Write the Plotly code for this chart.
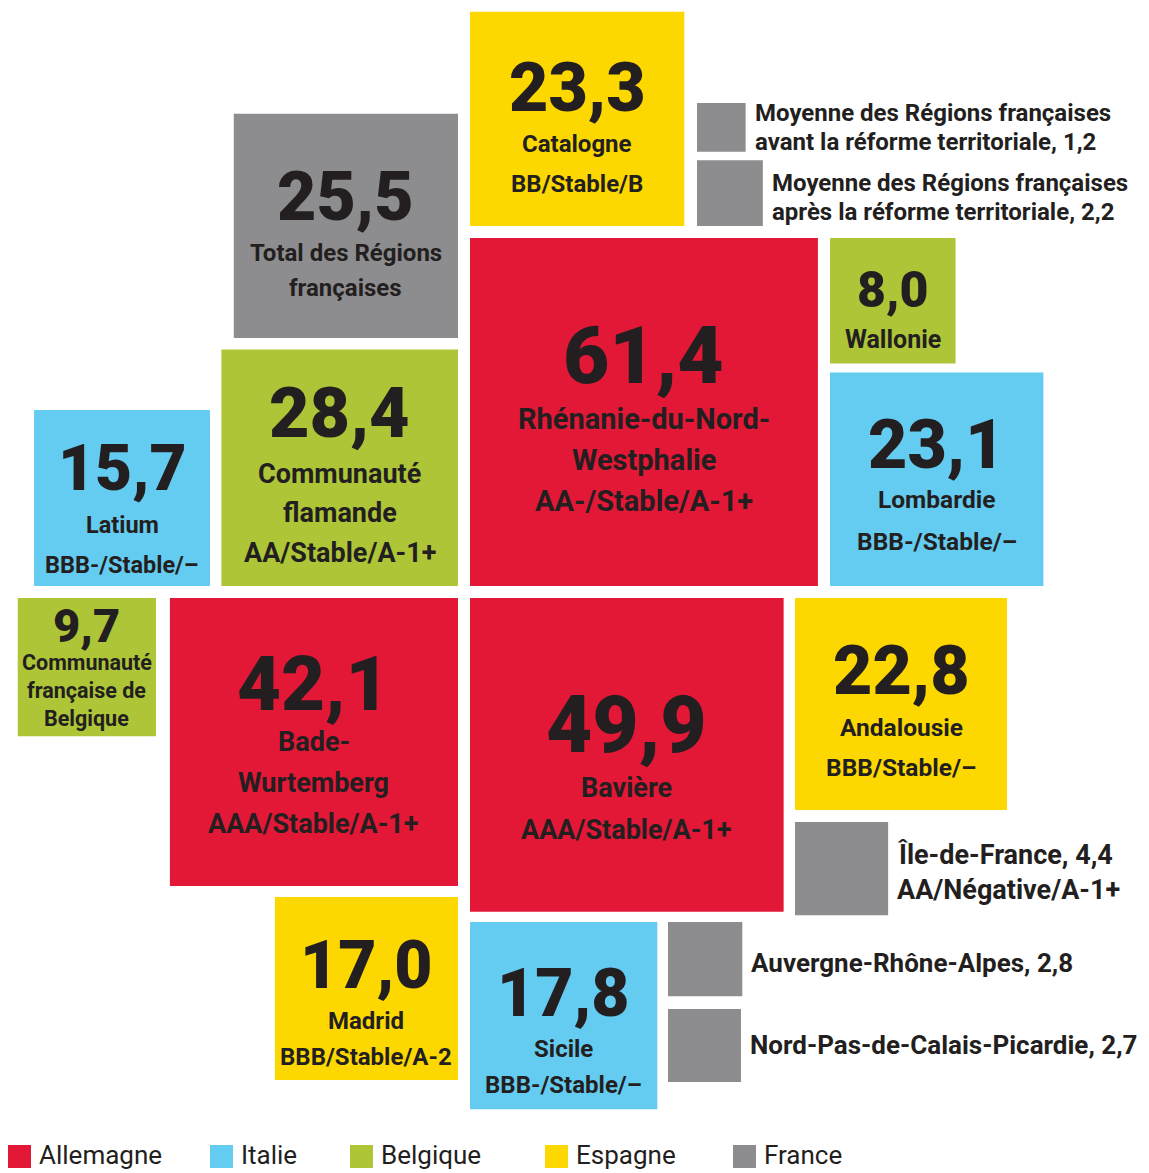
import math
import plotly.graph_objects as go

# ---------------- data ----------------
regions = ["Catalogne", "Total des Régions\nfrançaises",
           "Moyenne des Régions françaises\navant la réforme territoriale",
           "Moyenne des Régions françaises\naprès la réforme territoriale",
           "Rhénanie-du-Nord-\nWestphalie", "Wallonie", "Lombardie",
           "Communauté\nflamande", "Latium", "Communauté\nfrançaise de\nBelgique",
           "Bade-\nWurtemberg", "Bavière", "Andalousie", "Île-de-France",
           "Madrid", "Sicile", "Auvergne-Rhône-Alpes", "Nord-Pas-de-Calais-Picardie"]
values = [23.3, 25.5, 1.2, 2.2, 61.4, 8.0, 23.1, 28.4, 15.7, 9.7,
          42.1, 49.9, 22.8, 4.4, 17.0, 17.8, 2.8, 2.7]
countries = ["Espagne", "France", "France", "France", "Allemagne", "Belgique", "Italie",
             "Belgique", "Italie", "Belgique", "Allemagne", "Allemagne", "Espagne", "France",
             "Espagne", "Italie", "France", "France"]
ratings = ["BB/Stable/B", "", "", "", "AA-/Stable/A-1+", "", "BBB-/Stable/–",
           "AA/Stable/A-1+", "BBB-/Stable/–", "", "AAA/Stable/A-1+", "AAA/Stable/A-1+",
           "BBB/Stable/–", "AA/Négative/A-1+", "BBB/Stable/A-2", "BBB-/Stable/–", "", ""]
legend_countries = ["Allemagne", "Italie", "Belgique", "Espagne", "France"]

# ---------------- layout / style (positions only) ----------------
W, H = 1149, 1173
SCALE = 44.4  # px per sqrt(value)
# anchor corner of each square: (x, y, corner) ; corner in tl, tr, bl, br
anchors = [(470, 226, "bl"), (458, 338, "br"), (697, 103, "tl"), (697, 226, "bl"),
           (470, 586, "bl"), (830, 238, "tl"), (830, 586, "bl"), (458, 586, "br"),
           (210, 586, "br"), (156, 598, "tr"), (458, 598, "tr"), (470, 598, "tl"),
           (795, 598, "tl"), (795, 822, "tl"), (458, 897, "tr"), (470, 922, "tl"),
           (668, 922, "tl"), (668, 1009, "tl")]
text_mode = ["in", "in", "right", "right", "in", "in", "in", "in", "in", "in",
             "in", "in", "in", "right", "in", "in", "right", "right"]
num_size = [68, 68, 0, 0, 80, 50, 68, 70, 64, 47, 76, 80, 68, 0, 66, 66, 0, 0]
lab_size = [24, 24, 24, 24, 29, 25, 24.5, 27, 23.5, 21.5, 27, 27, 24.5, 27, 24, 24, 26, 26]
num_gap = [56, 56, 0, 0, 63, 49, 55, 61, 57, 37, 58, 63, 56, 0, 56, 56, 0, 0]
lab_step = [40, 35, 29, 29, 41, 0, 42, 39.5, 40, 28, 41, 42, 40, 35, 36, 36, 0, 0]
text_shift = [9, 9, 0, 4, 7, 9.5, 6, 7.5, 11.5, 0, 3, 13, 7.5, 4, 15, 16, 4, 0]

colors = {"Allemagne": "#E31837", "Italie": "#64CBF1", "Belgique": "#ADC536",
          "Espagne": "#FDD800", "France": "#8D8D8F"}
TXT = "#231F20"
NUM_FONT = "Roboto, Liberation Sans, Arial, sans-serif"
LAB_FONT = "Roboto, Liberation Sans, Arial, sans-serif"


def fmt(v):
    return f"{v:.1f}".replace(".", ",")


fig = go.Figure()
shapes = []
annotations = []

for i, v in enumerate(values):
    side = SCALE * math.sqrt(v)
    ax, ay, c = anchors[i]
    x0 = ax if c[1] == "l" else ax - side
    y0 = ay if c[0] == "t" else ay - side
    x1, y1 = x0 + side, y0 + side
    shapes.append(dict(type="rect", xref="x", yref="y", x0=x0, x1=x1, y0=y0, y1=y1,
                       fillcolor=colors[countries[i]], line=dict(width=0), layer="below"))
    cx, cy = (x0 + x1) / 2, (y0 + y1) / 2
    name_lines = regions[i].split("\n")
    ls = lab_size[i]
    if text_mode[i] == "in":
        ns = num_size[i]
        lines = name_lines + ([ratings[i]] if ratings[i] else [])
        step, gap = lab_step[i], num_gap[i]
        top = -0.36 * ns
        bottom = gap + step * (len(lines) - 1) + 0.36 * ls
        ynum = cy + text_shift[i] - (top + bottom) / 2
        annotations.append(dict(x=cx, y=ynum, xref="x", yref="y", text=fmt(v),
                                showarrow=False, xanchor="center", yanchor="middle",
                                font=dict(family=NUM_FONT, size=ns, color=TXT, weight=900)))
        for k, t in enumerate(lines):
            annotations.append(dict(x=cx, y=ynum + gap + step * k, xref="x", yref="y",
                                    text=t, showarrow=False, xanchor="center",
                                    yanchor="middle",
                                    font=dict(family=LAB_FONT, size=ls, color=TXT,
                                              weight="bold")))
    else:
        lines = list(name_lines)
        lines[-1] = lines[-1] + ", " + fmt(v)
        if ratings[i]:
            lines.append(ratings[i])
        step = lab_step[i]
        y_first = cy + text_shift[i] - step * (len(lines) - 1) / 2
        for k, t in enumerate(lines):
            annotations.append(dict(x=x1 + 7, y=y_first + step * k, xref="x", yref="y",
                                    text=t, showarrow=False, xanchor="left",
                                    yanchor="middle",
                                    font=dict(family=LAB_FONT, size=ls, color=TXT,
                                              weight="bold")))

# legend (manual)
leg_x = [8, 210, 350, 545, 733]
leg_y = 1155
for k, ctry in enumerate(legend_countries):
    shapes.append(dict(type="rect", xref="x", yref="y", x0=leg_x[k], x1=leg_x[k] + 23,
                       y0=leg_y - 10, y1=leg_y + 13, fillcolor=colors[ctry],
                       line=dict(width=0)))
    annotations.append(dict(x=leg_x[k] + 29, y=leg_y, xref="x", yref="y", text=ctry,
                            showarrow=False, xanchor="left", yanchor="middle",
                            font=dict(family=LAB_FONT, size=26, color=TXT)))

fig.update_layout(width=W, height=H, margin=dict(l=0, r=0, t=0, b=0),
                  paper_bgcolor="white", plot_bgcolor="white",
                  xaxis=dict(range=[0, W], visible=False, fixedrange=True),
                  yaxis=dict(range=[H, 0], visible=False, fixedrange=True),
                  shapes=shapes, annotations=annotations, showlegend=False)
fig.write_html("out.html")
